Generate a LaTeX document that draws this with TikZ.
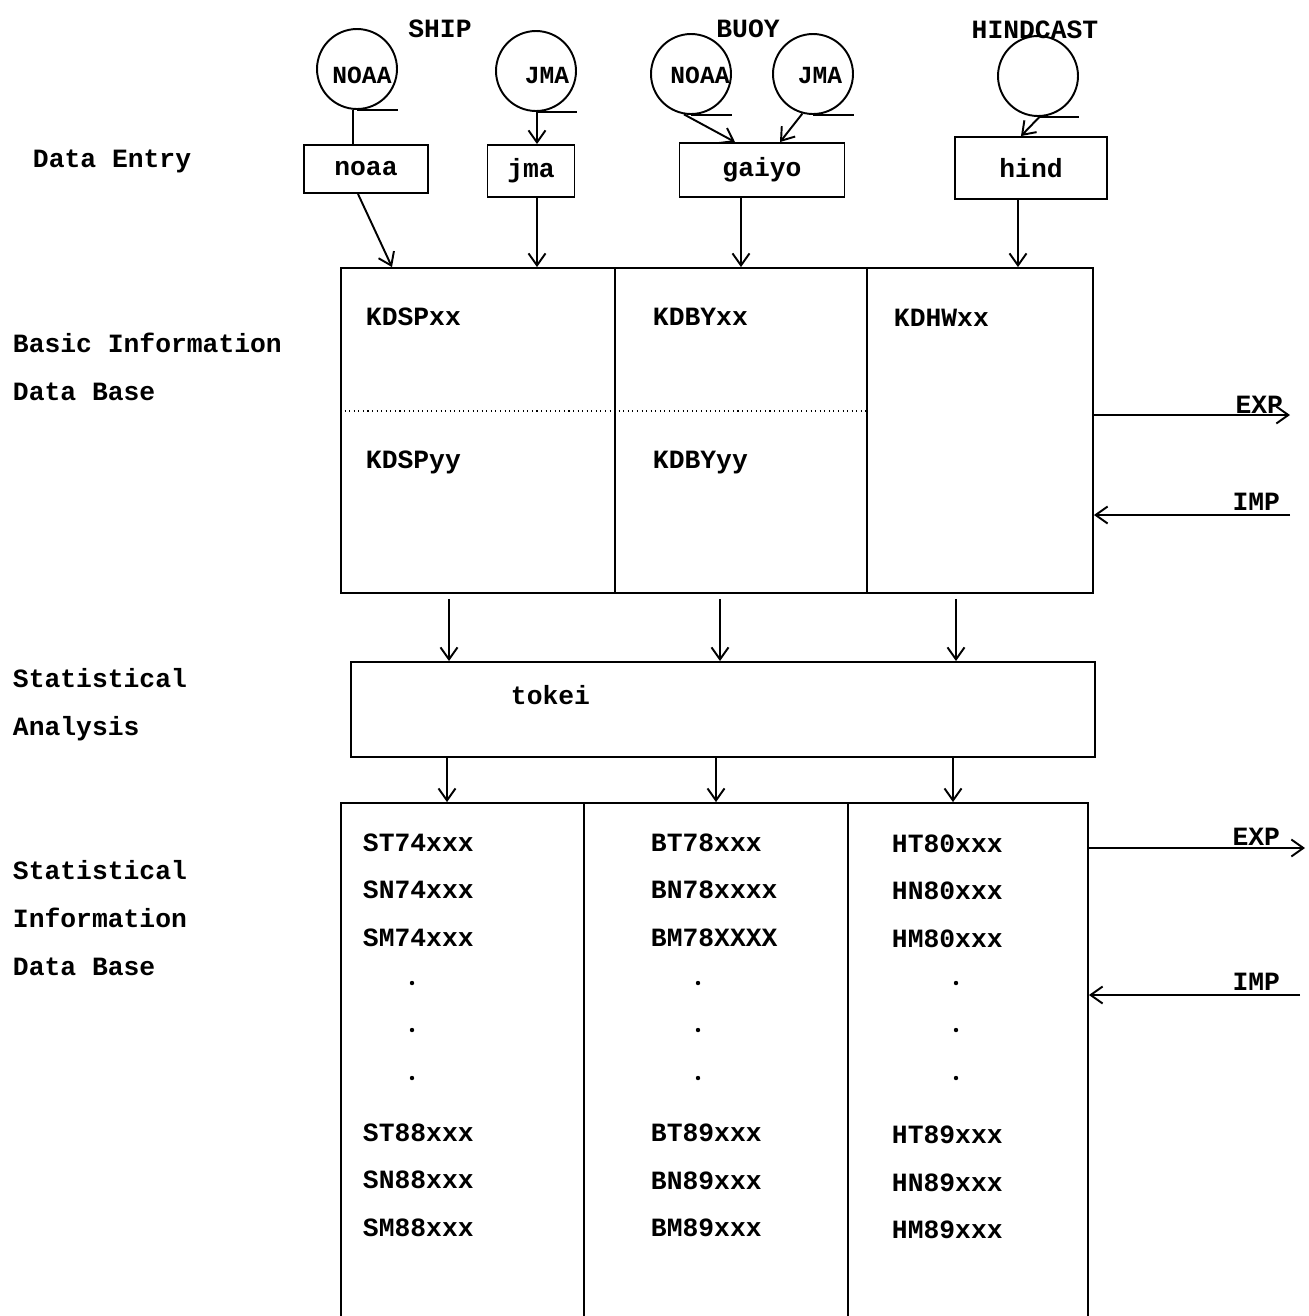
\documentclass[tikz,border=0pt]{standalone}
\usepackage{fontspec}
\setmainfont{Liberation Mono}
\usetikzlibrary{arrows.meta}

\begin{document}
\begin{tikzpicture}[x=0.02cm, y=-0.02cm, font=\fontsize{15}{18}\selectfont\bfseries,
  line width=1.1pt,
  arr/.style={-{Straight Barb[length=2.4mm, width=3.4mm]}},
  fonte/.style={draw, circle, minimum size=1.6cm, inner sep=0pt},
  fontetxt/.style={font=\fontsize{14}{16}\selectfont\bfseries, anchor=base, inner sep=0pt},
  prog/.style={draw, inner sep=0pt},
  col/.style={draw, inner sep=0pt},
  lbl/.style={anchor=base west, inner sep=0pt},
  dbtxt/.style={anchor=base west, inner sep=0pt},
  io/.style={anchor=base east, inner sep=0pt},
]
  % pixel grid of the scanned page: 1309 x 1316
  \useasboundingbox (0,0) rectangle (1309,1316);

  % stage names on the left
  \node[lbl] (lentry) at (32,167) {Data Entry};
  \node[lbl] (lbasic1) at (12,352) {Basic Information};
  \node[lbl] (lbasic2) at (12,400) {Data Base};
  \node[lbl] (lstat1) at (12,687) {Statistical};
  \node[lbl] (lstat2) at (12,735) {Analysis};
  \node[lbl] (linfo1) at (12,879) {Statistical};
  \node[lbl] (linfo2) at (12,927) {Information};
  \node[lbl] (linfo3) at (12,975) {Data Base};

  % sources
  \node[anchor=base] (ship) at (440,37) {SHIP};
  \node[anchor=base] (buoy) at (748,37) {BUOY};
  \node[anchor=base] (hcast) at (1035,38) {HINDCAST};

  \node[fonte] (c1) at (357,69) {};
  \node[fonte] (c2) at (536,71) {};
  \node[fonte] (c3) at (691,74) {};
  \node[fonte] (c4) at (813,74) {};
  \node[fonte] (c5) at (1038,76) {};
  \node[fontetxt] (t1) at (362,83) {NOAA};
  \node[fontetxt] (t2) at (547,83) {JMA};
  \node[fontetxt] (t3) at (700,83) {NOAA};
  \node[fontetxt] (t4) at (820,83) {JMA};
  \foreach \c in {c1,c2,c3,c4,c5}
    \draw (\c.south) -- (\c.south -| \c.east);

  % input programs
  \node[prog, minimum width=2.48cm, minimum height=0.96cm] (noaa) at (366,169) {noaa};
  \node[prog, minimum width=1.74cm, minimum height=1.04cm] (jma) at (531,171) {jma};
  \node[prog, minimum width=3.30cm, minimum height=1.08cm] (gaiyo) at (762,170) {gaiyo};
  \node[prog, minimum width=3.04cm, minimum height=1.24cm] (hind) at (1031,168) {hind};

  \draw (353,0 |- c1.south) -- (353,0 |- noaa.north);
  \draw[arr] (537,0 |- c2.south) -- (537,0 |- jma.north);
  \draw[arr] (c3.-100) -- (735,0 |- gaiyo.north);
  \draw[arr] (c4.-105) -- (780,0 |- gaiyo.north);
  \draw[arr] (c5.-88) -- (1021,0 |- hind.north);

  % basic information data base
  \node[col, minimum width=5.48cm, minimum height=6.5cm] (bs) at (478,430.5) {};
  \node[col, minimum width=5.04cm, minimum height=6.5cm] (bb) at (741,430.5) {};
  \node[col, minimum width=4.52cm, minimum height=6.5cm] (bh) at (980,430.5) {};
  \draw[dotted, line width=0.6pt] (bs.west |- 0,411) -- (bb.east |- 0,411);

  \node[dbtxt] (kdspxx) at (365,325) {KDSPxx};
  \node[dbtxt] (kdbyxx) at (652,325) {KDBYxx};
  \node[dbtxt] (kdhwxx) at (893,326) {KDHWxx};
  \node[dbtxt] (kdspyy) at (365,468) {KDSPyy};
  \node[dbtxt] (kdbyyy) at (652,468) {KDBYyy};

  \draw[arr] (358,0 |- noaa.south) -- (392,0 |- bs.north);
  \draw[arr] (537,0 |- jma.south) -- (537,0 |- bs.north);
  \draw[arr] (741,0 |- gaiyo.south) -- (741,0 |- bb.north);
  \draw[arr] (1018,0 |- hind.south) -- (1018,0 |- bh.north);

  \coordinate (exp1) at (1290,415);
  \coordinate (imp1) at (1290,515);
  \draw[arr] (bh.east |- exp1) -- (exp1);
  \draw[arr] (imp1) -- (bh.east |- imp1);
  \node[io] (lexp1) at (1284,413) {EXP};
  \node[io] (limp1) at (1281,510) {IMP};

  % statistical analysis
  \node[col, minimum width=14.88cm, minimum height=1.9cm] (tokei) at (723,709.5) {};
  \node[dbtxt] (ltokei) at (510,704) {tokei};
  \draw[arr, shorten <=0.1cm] (449,0 |- bs.south) -- (449,0 |- tokei.north);
  \draw[arr, shorten <=0.1cm] (720,0 |- bb.south) -- (720,0 |- tokei.north);
  \draw[arr, shorten <=0.1cm] (956,0 |- bh.south) -- (956,0 |- tokei.north);

  % statistical information data base (runs off the page)
  \node[col, minimum width=4.86cm, minimum height=10.8cm] (si1) at (462.5,1073) {};
  \node[col, minimum width=5.28cm, minimum height=10.8cm] (si2) at (716,1073) {};
  \node[col, minimum width=4.80cm, minimum height=10.8cm] (si3) at (968,1073) {};
  \draw[arr] (447,0 |- tokei.south) -- (447,0 |- si1.north);
  \draw[arr] (716,0 |- tokei.south) -- (716,0 |- si2.north);
  \draw[arr] (953,0 |- tokei.south) -- (953,0 |- si3.north);

  \node[dbtxt] (st74) at (362,851) {ST74xxx};
  \node[dbtxt] (sn74) at (362,898) {SN74xxx};
  \node[dbtxt] (sm74) at (362,946) {SM74xxx};
  \node[dbtxt] (st88) at (362,1141) {ST88xxx};
  \node[dbtxt] (sn88) at (362,1188) {SN88xxx};
  \node[dbtxt] (sm88) at (362,1236) {SM88xxx};
  \node[dbtxt] (bt78) at (650,851) {BT78xxx};
  \node[dbtxt] (bn78) at (650,898) {BN78xxxx};
  \node[dbtxt] (bm78) at (650,946) {BM78XXXX};
  \node[dbtxt] (bt89) at (650,1141) {BT89xxx};
  \node[dbtxt] (bn89) at (650,1189) {BN89xxx};
  \node[dbtxt] (bm89) at (650,1236) {BM89xxx};
  \node[dbtxt] (ht80) at (891,852) {HT80xxx};
  \node[dbtxt] (hn80) at (891,899) {HN80xxx};
  \node[dbtxt] (hm80) at (891,947) {HM80xxx};
  \node[dbtxt] (ht89) at (891,1143) {HT89xxx};
  \node[dbtxt] (hn89) at (891,1191) {HN89xxx};
  \node[dbtxt] (hm89) at (891,1238) {HM89xxx};
  \foreach \x in {412,698,956}
    \foreach \y in {983,1030,1078}
      \fill (\x,\y) circle (2.2);

  \coordinate (exp2) at (1305,848);
  \coordinate (imp2) at (1300,995);
  \draw[arr] (si3.east |- exp2) -- (exp2);
  \draw[arr] (imp2) -- (si3.east |- imp2);
  \node[io] (lexp2) at (1281,845) {EXP};
  \node[io] (limp2) at (1281,990) {IMP};
\end{tikzpicture}
\end{document}
